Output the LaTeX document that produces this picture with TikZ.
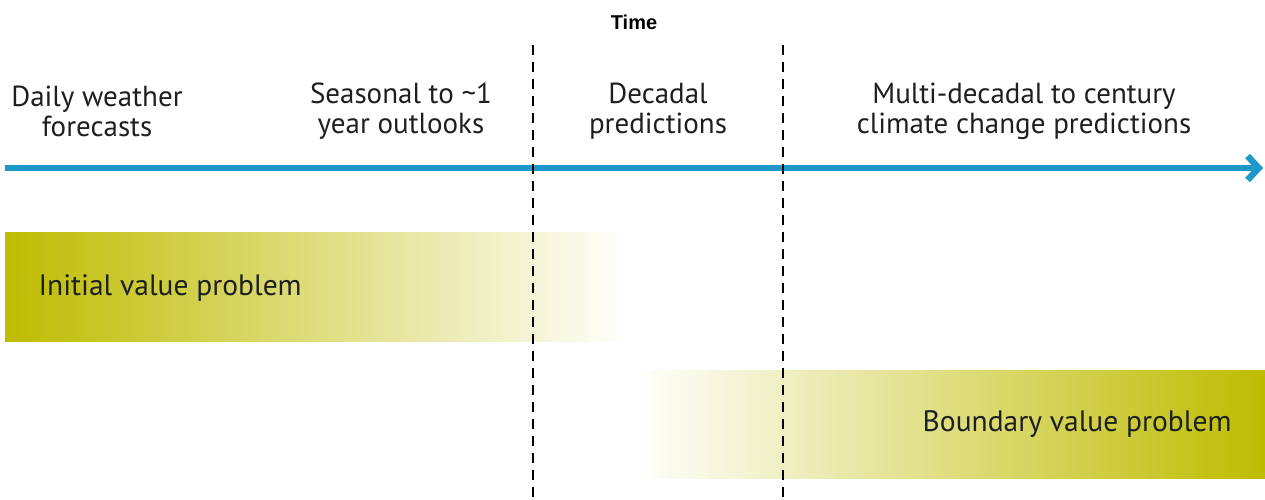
\documentclass[tikz,border=0pt]{standalone}
\usepackage{fontspec}
\setmainfont{PT Sans}
\newfontfamily\timefont{Liberation Sans}
\usetikzlibrary{arrows.meta}
\definecolor{axisblue}{RGB}{30,152,200}
\definecolor{barolive}{RGB}{190,188,0}

\begin{document}
\begin{tikzpicture}[x=1pt,y=-1pt,
	txt/.style={align=center,font=\fontsize{29}{30}\selectfont,text=black!88},
	sep/.style={line width=2.4pt,dash pattern=on 10pt off 7pt},
	barlabel/.style={font=\fontsize{29.5}{30}\selectfont,text=black!88}]
\useasboundingbox (0,0) rectangle (1265,499);
% shaded bars
\path[left color=barolive,middle color=barolive!55,right color=white] (5,232) rectangle (630,341);
\path[left color=white,middle color=barolive!55,right color=barolive] (635,370) rectangle (1265,478);
\node [barlabel,anchor=west] (i) at (35,288) {Initial value problem};
\node [barlabel,anchor=east] (b) at (1235,424) {Boundary value problem};
% time axis
\node [font=\timefont\bfseries\fontsize{20}{22}\selectfont] (t) at (634,22) {Time};
\coordinate (a0) at (5,168);
\coordinate (a1) at (1263,168);
\draw [axisblue,line width=6.5pt,-{Straight Barb[length=11pt,width=24pt]}] (a0) -- (a1);
% separators
\coordinate (d1) at (533,45);
\coordinate (d2) at (533,499);
\coordinate (d3) at (783,45);
\coordinate (d4) at (783,499);
\draw [sep] (d1) -- (d2);
\draw [sep] (d3) -- (d4);
% ranges
\node [txt] (w) at (97,111) {Daily weather\\forecasts};
\node [txt] (s) at (401,111) {Seasonal to \textasciitilde 1\\year outlooks};
\node [txt] (d) at (658,111) {Decadal\\predictions};
\node [txt] (m) at (1024,111) {Multi-decadal to century\\climate change predictions};
\end{tikzpicture}
\end{document}
